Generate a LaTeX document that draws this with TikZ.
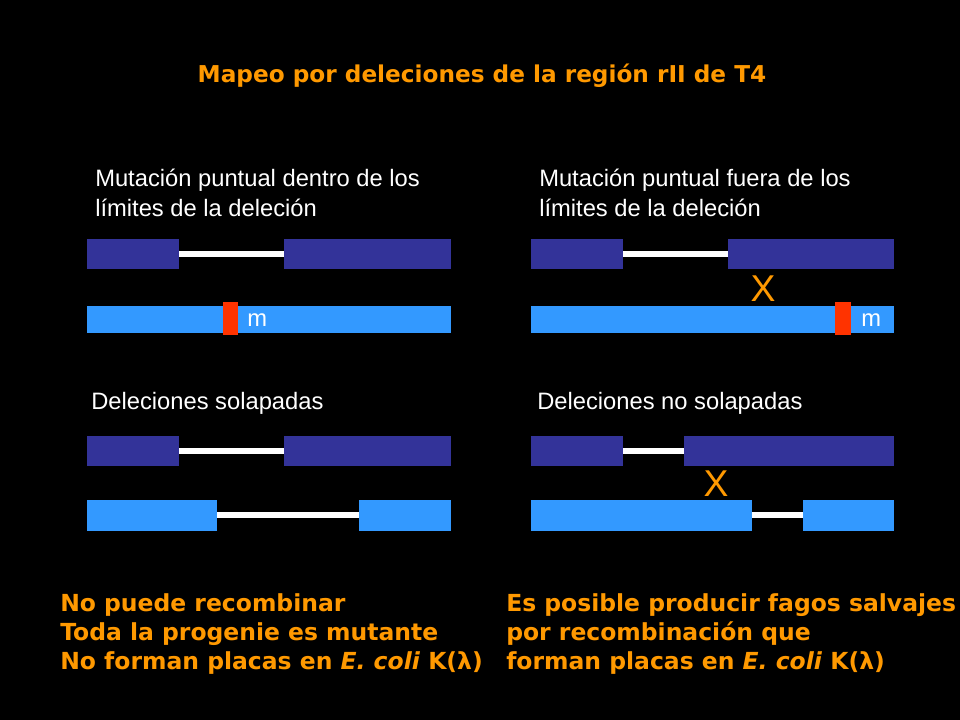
\documentclass[tikz,border=0pt]{standalone}
\usepackage{fontspec}
\setmainfont{Liberation Sans}
\newfontfamily\heavyfont{DejaVu Sans}
\definecolor{darkbar}{HTML}{333399}
\definecolor{lightbar}{HTML}{3399FF}
\definecolor{marker}{HTML}{FF3300}
\definecolor{orangetext}{HTML}{FF9900}
\tikzset{
  dark/.style={fill=darkbar},
  light/.style={fill=lightbar},
  gap/.style={draw=white, line width=4pt},
  label/.style={anchor=west, text=white, font=\fontsize{17.8}{21}\selectfont, align=left, inner sep=0pt},
  note/.style={anchor=west, text=orangetext, font=\heavyfont\bfseries\fontsize{17.6}{22}\selectfont, align=left, inner sep=0pt},
  cross/.style={text=orangetext, font=\fontsize{28}{28}\selectfont, inner sep=0pt}
}
\begin{document}
\begin{tikzpicture}[x=0.75pt, y=-0.75pt]
    % background
    \fill[black] (0,0) rectangle (960,720);
    \useasboundingbox (0,0) rectangle (960,720);

    % title
    \node[text=orangetext, font=\heavyfont\bfseries\fontsize{17.4}{18}\selectfont] (title) at (482,76) {Mapeo por deleciones de la región rII de T4};

    % top left
    \node[label] (tl) at (95,193) {Mutación puntual dentro de los\\[1pt]límites de la deleción};
    \draw[gap] (179,254) -- (284,254);
    \fill[dark] (87,239) rectangle (179,269);
    \fill[dark] (284,239) rectangle (451,269);
    \fill[light] (87,306) rectangle (451,333);
    \fill[marker] (223,302) rectangle (238,335);
    \node[label] (mleft) at (247,320) {m};

    % top right
    \node[label] (tr) at (539,193) {Mutación puntual fuera de los\\[1pt]límites de la deleción};
    \draw[gap] (623,254) -- (728,254);
    \fill[dark] (531,239) rectangle (623,269);
    \fill[dark] (728,239) rectangle (894,269);
    \fill[light] (531,306) rectangle (894,333);
    \fill[marker] (835,302) rectangle (851,335);
    \node[label] (mright) at (861,320) {m};
    \node[cross] (xtop) at (763,289) {X};

    % bottom left
    \node[label] (bl) at (91,403) {Deleciones solapadas};
    \draw[gap] (179,451) -- (284,451);
    \fill[dark] (87,436) rectangle (179,466);
    \fill[dark] (284,436) rectangle (451,466);
    \draw[gap] (217,515) -- (359,515);
    \fill[light] (87,500) rectangle (217,531);
    \fill[light] (359,500) rectangle (451,531);

    % bottom right
    \node[label] (br) at (537,403) {Deleciones no solapadas};
    \draw[gap] (623,451) -- (684,451);
    \fill[dark] (531,436) rectangle (623,466);
    \fill[dark] (684,436) rectangle (894,466);
    \draw[gap] (752,515) -- (803,515);
    \fill[light] (531,500) rectangle (752,531);
    \fill[light] (803,500) rectangle (894,531);
    \node[cross] (xbottom) at (716,484) {X};

    % conclusions
    \node[note] (nleft) at (60,634) {No puede recombinar\\Toda la progenie es mutante\\No forman placas en \textit{E. coli} K(λ)};
    \node[note] (nright) at (506,634) {Es posible producir fagos salvajes\\por recombinación que\\forman placas en \textit{E. coli} K(λ)};
\end{tikzpicture}
\end{document}
